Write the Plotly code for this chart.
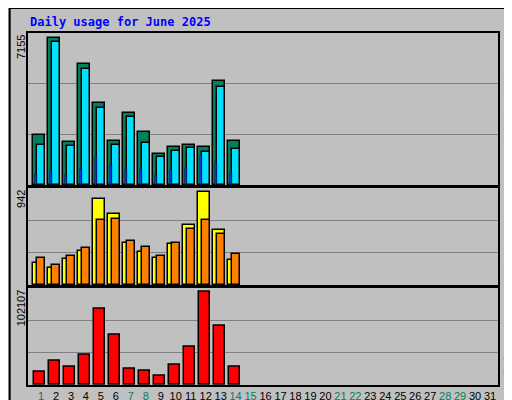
import plotly.graph_objects as go

days = list(range(1, 15))
hits = [2450, 7155, 2100, 5880, 3970, 2160, 3530, 2600, 1520, 1860, 1960, 1860, 5050, 2160]
files = [1960, 6960, 1910, 5640, 3770, 1960, 3330, 2060, 1370, 1670, 1810, 1620, 4750, 1760]
pages = [540, 690, 490, 780, 1370, 980, 780, 780, 490, 730, 830, 1420, 1130, 640]
visits = [225, 174, 266, 348, 870, 717, 430, 338, 276, 420, 604, 942, 553, 256]
sites = [276, 205, 297, 379, 655, 666, 450, 389, 297, 430, 563, 655, 522, 317]
kbytes = [14400, 26600, 20000, 33300, 83200, 55500, 17800, 15500, 10000, 22200, 42200, 102107, 64400, 20000]
all_days = list(range(1, 32))
weekend = {1, 7, 8, 14, 15, 21, 22, 28, 29}

fig = go.Figure()
ln = dict(color="black", width=1.5)
fig.add_bar(x=days, y=hits, offset=-0.53, width=0.8, marker=dict(color="#00805c", line=ln), yaxis="y")
fig.add_bar(x=days, y=files, offset=-0.27, width=0.53, marker=dict(color="#00e0ff", line=ln), yaxis="y")
fig.add_bar(x=days, y=pages, offset=-0.4, width=0.13, marker=dict(color="#0040ff", line=dict(color="black", width=0.5)), yaxis="y")
fig.add_bar(x=days, y=visits, offset=-0.53, width=0.8, marker=dict(color="#ffff00", line=ln), xaxis="x2", yaxis="y2")
fig.add_bar(x=days, y=sites, offset=-0.27, width=0.53, marker=dict(color="#ff8000", line=ln), xaxis="x2", yaxis="y2")
fig.add_bar(x=days, y=kbytes, offset=-0.47, width=0.73, marker=dict(color="#ff0000", line=ln), xaxis="x3", yaxis="y3")

xr = [0.13, 31.53]
ticktext = [f'<span style="color:{"#00805c" if d in weekend else "black"}">{d}</span>' for d in all_days]
xbase = dict(range=xr, showgrid=False, showline=True, mirror=True, linecolor="black", linewidth=1.5,
             zeroline=False, automargin=False)
m1, m2, m3 = 7398, 982, 106500
def yax(dom, m, anchor):
    return dict(domain=dom, range=[0, m], tickvals=[m/3, 2*m/3], showticklabels=False, ticks="",
                gridcolor="#808080", gridwidth=1, showline=True, mirror=True, linecolor="black",
                linewidth=1.5, zeroline=False, anchor=anchor, automargin=False)

fig.update_layout(
    width=512, height=400, barmode="overlay", showlegend=False,
    paper_bgcolor="#c0c0c0", plot_bgcolor="#c0c0c0",
    margin=dict(l=20, r=22, t=25, b=23),
    font=dict(family="Liberation Sans", size=11, color="black"),
    xaxis=dict(**xbase, anchor="y", showticklabels=False),
    xaxis2=dict(**xbase, anchor="y2", matches="x", showticklabels=False),
    xaxis3=dict(**xbase, anchor="y3", matches="x", tickvals=all_days, ticktext=ticktext,
                ticks="", tickangle=0, tickfont=dict(size=11, family="Liberation Sans")),
    yaxis=yax([0.568, 1], m1, "x"),
    yaxis2=yax([0.284, 0.56], m2, "x2"),
    yaxis3=yax([0, 0.276], m3, "x3"),
    bargap=0,
)

def vlabel(text, y):
    fig.add_annotation(text=text, xref="paper", yref="paper", x=0, y=y, xanchor="center", yanchor="top",
                       xshift=-7, textangle=-90, showarrow=False, font=dict(size=11, color="black"))

vlabel("7155", 1.0)
vlabel("942", 0.56)
vlabel("102107", 0.276)
mono = dict(family="DejaVu Sans Mono", size=10)
def rlabel(text, y):
    fig.add_annotation(text=text, xref="paper", yref="paper", x=1, y=y, xanchor="center", yanchor="bottom",
                       xshift=10, yshift=3, textangle=-90, showarrow=False, font=mono)
rlabel('<span style="color:#00e0ff">Pages</span> / <span style="color:#0040ff">Files</span> / <span style="color:#00805c">Hits</span>', 0.568)
rlabel('<span style="color:#ff8000">Sites</span> / <span style="color:#ffff00">Visits</span>', 0.284)
rlabel('<span style="color:#ff0000">KB F</span>', 0.0)

fig.add_annotation(text="<b>Daily usage for June 2025</b>", xref="paper", yref="paper", x=0, y=1.0,
                   xanchor="left", yanchor="bottom", yshift=2, showarrow=False,
                   font=dict(family="DejaVu Sans Mono", size=12, color="#0000ff"))
fig.add_shape(type="rect", xref="paper", yref="paper", x0=-0.039, x1=1.043, y0=-0.065, y1=1.071,
              line=dict(color="black", width=2))

fig.write_html("out.html")
